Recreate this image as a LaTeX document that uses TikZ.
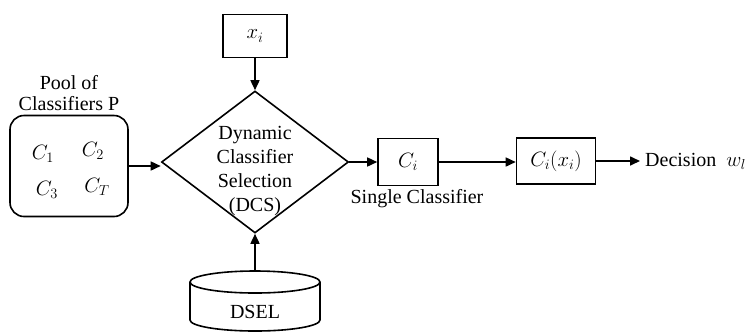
\documentclass[tikz,border=0pt]{standalone}
\usepackage{fontspec}
\setmainfont{Liberation Serif}
\usetikzlibrary{shapes.geometric,arrows.meta}
\begin{document}
\begin{tikzpicture}[x=1pt,y=-1pt,
  txt/.style={font=\rmfamily\fontsize{20}{21}\selectfont, inner sep=0},
  box/.style={draw, line width=1.6pt, inner sep=0, font=\rmfamily\fontsize{20}{21}\selectfont},
  arr/.style={-{Triangle[length=10pt,width=9pt]}, line width=1.6pt},
  ]
\useasboundingbox (0,0) rectangle (751,333);
% pool of classifiers
\node[box, rounded corners=14pt, minimum width=118pt, minimum height=101pt] (pool) at (69,166) {};
\node[txt, align=center, anchor=south] (pooltitle) at (69,111) {Pool of\\Classifiers P};
\node[txt] (c1) at (43,154) {$C_1$};
\node[txt] (c2) at (93,151) {$C_2$};
\node[txt] (c3) at (47,190) {$C_3$};
\node[txt] (ct) at (97,187) {$C_T$};
% diamond
\node[draw, diamond, line width=1.6pt, minimum width=187pt, minimum height=142pt, inner sep=0] (dcs) at (255,162) {};
\node[inner sep=0, align=center, font=\rmfamily\fontsize{20}{24}\selectfont] (dcstext) at (255,171) {Dynamic\\Classifier\\Selection\\(DCS)};
% input
\node[box, minimum width=64pt, minimum height=43pt] (xi) at (255,36) {$x_i$};
% DSEL cylinder
\coordinate (dseltop) at (255,271);
\draw[line width=1.6pt] (255,282) ellipse [x radius=65pt, y radius=11pt];
\draw[line width=1.6pt] (190,282) -- (190,320) arc[start angle=180, end angle=360, x radius=65pt, y radius=11pt] -- (320,282);
\node[txt] (dsel) at (255,312) {DSEL};
% classifier boxes
\node[box, minimum width=60pt, minimum height=47pt] (ci) at (408,162) {$C_i$};
\node[txt] (single) at (417,199) {Single Classifier};
\node[box, minimum width=79pt, minimum height=46pt] (cix) at (556,161) {$C_i(x_i)$};
\node[txt, inner xsep=5pt, anchor=west] (dec) at (640,161) {Decision\enspace$w_l$};
% connectors
\draw[arr] (pool.east) -- (pool.east -| dcs.west);
\draw[arr] (xi.south) -- (dcs.north);
\draw[arr] (dseltop) -- (dcs.south);
\draw[arr] (dcs.east) -- (ci.west);
\draw[arr] (ci.east) -- (ci.east -| cix.west);
\draw[arr] (cix.east) -- (dec.west);
\end{tikzpicture}
\end{document}
